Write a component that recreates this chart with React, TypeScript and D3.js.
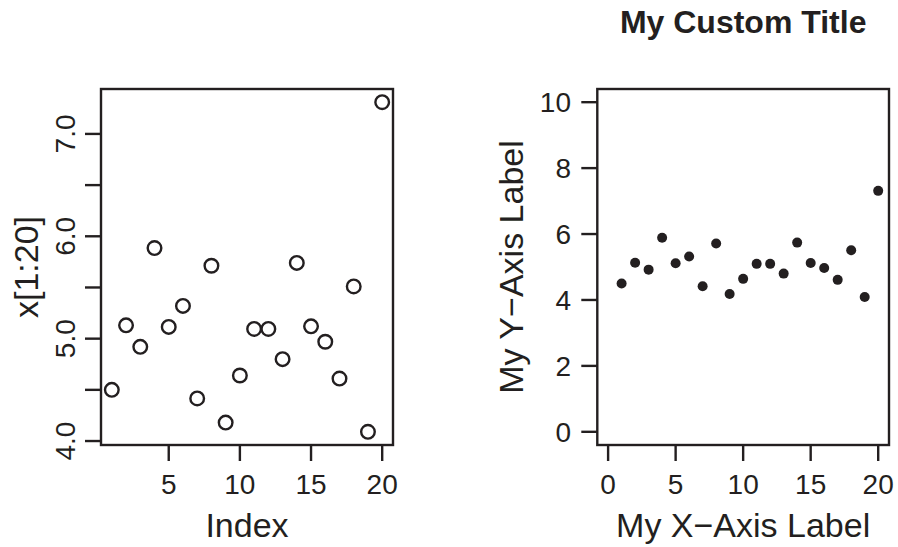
import React from "react";
import * as d3 from "d3";

// Sample values x[1:20]
const values: number[] = [
  4.5, 5.13, 4.92, 5.885, 5.115, 5.32, 4.416, 5.712, 4.18, 4.64,
  5.095, 5.095, 4.8, 5.74, 5.12, 4.97, 4.61, 5.51, 4.09, 7.31,
];
const index: number[] = values.map((_, i) => i + 1);

const leftXTicks = [5, 10, 15, 20];
const leftYTicks = [4, 4.5, 5, 5.5, 6, 6.5, 7];
const leftYLabels = [4, 5, 6, 7];
const rightXTicks = [0, 5, 10, 15, 20];
const rightYTicks = [0, 2, 4, 6, 8, 10];

const W = 898;
const H = 547;
const INK = "#231f20";
const FONT = "'Liberation Sans', Arial, Helvetica, sans-serif";
const TICK_FS = 28;
const LAB_FS = 34;
const TICK_LEN = 16;

// R-style 4% padding on an axis range
const pad = (lo: number, hi: number): [number, number] => {
  const d = (hi - lo) * 0.04;
  return [lo - d, hi + d];
};

export default function App() {
  const top = 89;
  const bottom = 445;

  // left panel
  const L = { x0: 101, x1: 393 };
  const lx = d3.scaleLinear().domain(pad(1, 20)).range([L.x0, L.x1]);
  const ly = d3
    .scaleLinear()
    .domain(pad(d3.min(values)!, d3.max(values)!))
    .range([bottom, top]);

  // right panel
  const R = { x0: 597.3, x1: 889 };
  const rx = d3.scaleLinear().domain(pad(0, 20)).range([R.x0, R.x1]);
  const ry = d3.scaleLinear().domain(pad(0, 10)).range([bottom, top]);

  const fmt1 = d3.format(".1f");

  return (
    <svg
      width={W}
      height={H}
      style={{ position: "absolute", left: 0, top: 0, background: "#fff" }}
      fontFamily={FONT}
    >
      <rect width={W} height={H} fill="#fff" />

      {/* ---------- left panel ---------- */}
      <rect
        x={L.x0}
        y={top}
        width={L.x1 - L.x0}
        height={bottom - top}
        fill="none"
        stroke={INK}
        strokeWidth={2.4}
      />
      {leftXTicks.map((t) => (
        <g key={"lx" + t}>
          <line x1={lx(t)} x2={lx(t)} y1={bottom} y2={bottom + TICK_LEN} stroke={INK} strokeWidth={2.4} />
          <text x={lx(t)} y={494} textAnchor="middle" fontSize={TICK_FS} fill={INK}>
            {t}
          </text>
        </g>
      ))}
      {leftYTicks.map((t) => (
        <line key={"lyt" + t} x1={L.x0} x2={L.x0 - TICK_LEN} y1={ly(t)} y2={ly(t)} stroke={INK} strokeWidth={2.4} />
      ))}
      {leftYLabels.map((t) => (
        <text
          key={"lyl" + t}
          transform={`translate(75,${ly(t)}) rotate(-90)`}
          textAnchor="middle"
          fontSize={TICK_FS}
          fill={INK}
        >
          {fmt1(t)}
        </text>
      ))}
      {values.map((v, i) => (
        <circle key={"lp" + i} cx={lx(index[i])} cy={ly(v)} r={6.8} fill="none" stroke={INK} strokeWidth={2.4} />
      ))}
      <text x={(L.x0 + L.x1) / 2} y={537} textAnchor="middle" fontSize={LAB_FS} fill={INK}>
        Index
      </text>
      <text
        transform={`translate(38,${(top + bottom) / 2}) rotate(-90)`}
        textAnchor="middle"
        fontSize={LAB_FS}
        fill={INK}
      >
        x[1:20]
      </text>

      {/* ---------- right panel ---------- */}
      <text
        x={(R.x0 + R.x1) / 2}
        y={33}
        textAnchor="middle"
        fontSize={32}
        fontWeight="bold"
        fill={INK}
      >
        My Custom Title
      </text>
      <rect
        x={R.x0}
        y={top}
        width={R.x1 - R.x0}
        height={bottom - top}
        fill="none"
        stroke={INK}
        strokeWidth={2.4}
      />
      {rightXTicks.map((t) => (
        <g key={"rx" + t}>
          <line x1={rx(t)} x2={rx(t)} y1={bottom} y2={bottom + TICK_LEN} stroke={INK} strokeWidth={2.4} />
          <text x={rx(t)} y={494} textAnchor="middle" fontSize={TICK_FS} fill={INK}>
            {t}
          </text>
        </g>
      ))}
      {rightYTicks.map((t) => (
        <g key={"ry" + t}>
          <line x1={R.x0} x2={R.x0 - TICK_LEN} y1={ry(t)} y2={ry(t)} stroke={INK} strokeWidth={2.4} />
          <text x={571} y={ry(t)} dy="0.35em" textAnchor="end" fontSize={TICK_FS} fill={INK}>
            {t}
          </text>
        </g>
      ))}
      {values.map((v, i) => (
        <circle key={"rp" + i} cx={rx(index[i])} cy={ry(v)} r={5} fill={INK} />
      ))}
      <text x={(R.x0 + R.x1) / 2} y={537} textAnchor="middle" fontSize={LAB_FS} fill={INK}>
        My X−Axis Label
      </text>
      <text
        transform={`translate(523,${(top + bottom) / 2}) rotate(-90)`}
        textAnchor="middle"
        fontSize={LAB_FS}
        fill={INK}
      >
        My Y−Axis Label
      </text>
    </svg>
  );
}
